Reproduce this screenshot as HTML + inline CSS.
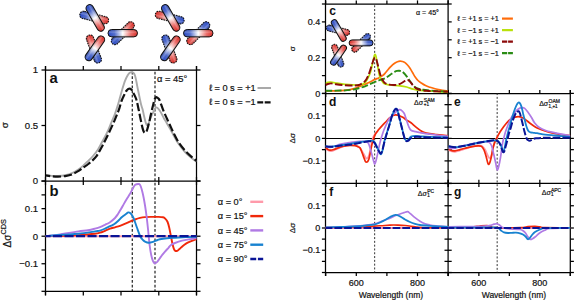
<!DOCTYPE html>
<html><head><meta charset="utf-8"><title>figure</title>
<style>html,body{margin:0;padding:0;background:#fff;overflow:hidden;}svg{display:block;}text{font-family:"Liberation Sans",sans-serif;fill:#111;stroke:#111;stroke-width:0.2px;}</style>
</head><body>
<svg width="575" height="300" viewBox="0 0 575 300">
<defs>
<linearGradient id="rg" x1="0" y1="0" x2="1" y2="0"><stop offset="0" stop-color="#2446c4"/><stop offset="0.22" stop-color="#4c68cc"/><stop offset="0.5" stop-color="#ffffff"/><stop offset="0.78" stop-color="#ec6a66"/><stop offset="1" stop-color="#d8261e"/></linearGradient>
<linearGradient id="sh" x1="0" y1="0" x2="0" y2="1"><stop offset="0" stop-color="#000" stop-opacity="0.18"/><stop offset="0.35" stop-color="#fff" stop-opacity="0.25"/><stop offset="0.6" stop-color="#fff" stop-opacity="0.0"/><stop offset="1" stop-color="#000" stop-opacity="0.22"/></linearGradient>
</defs>
<g transform="translate(94.2,17.6) rotate(14)"><rect x="-14.75" y="-3.7" width="29.5" height="7.4" rx="3.7" fill="url(#rg)"/><rect x="-14.75" y="-3.7" width="29.5" height="7.4" rx="3.7" fill="url(#sh)"/><rect x="-14.75" y="-3.7" width="29.5" height="7.4" rx="3.7" fill="none" stroke="#111" stroke-width="1.05" stroke-dasharray="1.6 0.9"/></g>
<g transform="translate(95.2,17.9) rotate(60.3)"><rect x="-14.75" y="-3.7" width="29.5" height="7.4" rx="3.7" fill="url(#rg)"/><rect x="-14.75" y="-3.7" width="29.5" height="7.4" rx="3.7" fill="url(#sh)"/><rect x="-14.75" y="-3.7" width="29.5" height="7.4" rx="3.7" fill="none" stroke="#111" stroke-width="1.0"/></g>
<g transform="translate(122.8,33.2) rotate(-44.9)"><rect x="-14.75" y="-3.7" width="29.5" height="7.4" rx="3.7" fill="url(#rg)"/><rect x="-14.75" y="-3.7" width="29.5" height="7.4" rx="3.7" fill="url(#sh)"/><rect x="-14.75" y="-3.7" width="29.5" height="7.4" rx="3.7" fill="none" stroke="#111" stroke-width="1.05" stroke-dasharray="1.6 0.9"/></g>
<g transform="translate(122.75,33.2) rotate(0)"><rect x="-14.75" y="-3.7" width="29.5" height="7.4" rx="3.7" fill="url(#rg)"/><rect x="-14.75" y="-3.7" width="29.5" height="7.4" rx="3.7" fill="url(#sh)"/><rect x="-14.75" y="-3.7" width="29.5" height="7.4" rx="3.7" fill="none" stroke="#111" stroke-width="1.0"/></g>
<g transform="translate(93.9,49) rotate(-110.5)"><rect x="-14.75" y="-3.7" width="29.5" height="7.4" rx="3.7" fill="url(#rg)"/><rect x="-14.75" y="-3.7" width="29.5" height="7.4" rx="3.7" fill="url(#sh)"/><rect x="-14.75" y="-3.7" width="29.5" height="7.4" rx="3.7" fill="none" stroke="#111" stroke-width="1.05" stroke-dasharray="1.6 0.9"/></g>
<g transform="translate(94.9,48.3) rotate(-55)"><rect x="-14.31" y="-3.7" width="28.61" height="7.4" rx="3.7" fill="url(#rg)"/><rect x="-14.31" y="-3.7" width="28.61" height="7.4" rx="3.7" fill="url(#sh)"/><rect x="-14.31" y="-3.7" width="28.61" height="7.4" rx="3.7" fill="none" stroke="#111" stroke-width="1.0"/></g>
<g transform="translate(169.7,17.6) rotate(194)"><rect x="-14.75" y="-3.7" width="29.5" height="7.4" rx="3.7" fill="url(#rg)"/><rect x="-14.75" y="-3.7" width="29.5" height="7.4" rx="3.7" fill="url(#sh)"/><rect x="-14.75" y="-3.7" width="29.5" height="7.4" rx="3.7" fill="none" stroke="#111" stroke-width="1.05" stroke-dasharray="1.6 0.9"/></g>
<g transform="translate(170.7,17.9) rotate(60.3)"><rect x="-14.75" y="-3.7" width="29.5" height="7.4" rx="3.7" fill="url(#rg)"/><rect x="-14.75" y="-3.7" width="29.5" height="7.4" rx="3.7" fill="url(#sh)"/><rect x="-14.75" y="-3.7" width="29.5" height="7.4" rx="3.7" fill="none" stroke="#111" stroke-width="1.0"/></g>
<g transform="translate(198.3,33.2) rotate(135.1)"><rect x="-14.75" y="-3.7" width="29.5" height="7.4" rx="3.7" fill="url(#rg)"/><rect x="-14.75" y="-3.7" width="29.5" height="7.4" rx="3.7" fill="url(#sh)"/><rect x="-14.75" y="-3.7" width="29.5" height="7.4" rx="3.7" fill="none" stroke="#111" stroke-width="1.05" stroke-dasharray="1.6 0.9"/></g>
<g transform="translate(198.25,33.2) rotate(0)"><rect x="-14.75" y="-3.7" width="29.5" height="7.4" rx="3.7" fill="url(#rg)"/><rect x="-14.75" y="-3.7" width="29.5" height="7.4" rx="3.7" fill="url(#sh)"/><rect x="-14.75" y="-3.7" width="29.5" height="7.4" rx="3.7" fill="none" stroke="#111" stroke-width="1.0"/></g>
<g transform="translate(169.4,49) rotate(69.5)"><rect x="-14.75" y="-3.7" width="29.5" height="7.4" rx="3.7" fill="url(#rg)"/><rect x="-14.75" y="-3.7" width="29.5" height="7.4" rx="3.7" fill="url(#sh)"/><rect x="-14.75" y="-3.7" width="29.5" height="7.4" rx="3.7" fill="none" stroke="#111" stroke-width="1.05" stroke-dasharray="1.6 0.9"/></g>
<g transform="translate(170.4,48.3) rotate(-55)"><rect x="-14.31" y="-3.7" width="28.61" height="7.4" rx="3.7" fill="url(#rg)"/><rect x="-14.31" y="-3.7" width="28.61" height="7.4" rx="3.7" fill="url(#sh)"/><rect x="-14.31" y="-3.7" width="28.61" height="7.4" rx="3.7" fill="none" stroke="#111" stroke-width="1.0"/></g>
<line x1="45.5" y1="70" x2="196.5" y2="70" stroke="#000" stroke-width="1.25"/>
<line x1="45.5" y1="181" x2="196.5" y2="181" stroke="#000" stroke-width="1.25"/>
<line x1="45.5" y1="291.4" x2="196.5" y2="291.4" stroke="#000" stroke-width="1.25"/>
<line x1="45.5" y1="66" x2="45.5" y2="295.4" stroke="#000" stroke-width="1.25"/>
<line x1="196.5" y1="66" x2="196.5" y2="295.4" stroke="#000" stroke-width="1.25"/>
<line x1="45.5" y1="66" x2="45.5" y2="70" stroke="#000" stroke-width="1.25"/>
<line x1="45.5" y1="177" x2="45.5" y2="185" stroke="#000" stroke-width="1.25"/>
<line x1="45.5" y1="291.4" x2="45.5" y2="295.4" stroke="#000" stroke-width="1.25"/>
<line x1="83.3" y1="66" x2="83.3" y2="70" stroke="#000" stroke-width="1.25"/>
<line x1="83.3" y1="177" x2="83.3" y2="185" stroke="#000" stroke-width="1.25"/>
<line x1="83.3" y1="291.4" x2="83.3" y2="295.4" stroke="#000" stroke-width="1.25"/>
<line x1="121" y1="66" x2="121" y2="70" stroke="#000" stroke-width="1.25"/>
<line x1="121" y1="177" x2="121" y2="185" stroke="#000" stroke-width="1.25"/>
<line x1="121" y1="291.4" x2="121" y2="295.4" stroke="#000" stroke-width="1.25"/>
<line x1="158.8" y1="66" x2="158.8" y2="70" stroke="#000" stroke-width="1.25"/>
<line x1="158.8" y1="177" x2="158.8" y2="185" stroke="#000" stroke-width="1.25"/>
<line x1="158.8" y1="291.4" x2="158.8" y2="295.4" stroke="#000" stroke-width="1.25"/>
<line x1="196.5" y1="66" x2="196.5" y2="70" stroke="#000" stroke-width="1.25"/>
<line x1="196.5" y1="177" x2="196.5" y2="185" stroke="#000" stroke-width="1.25"/>
<line x1="196.5" y1="291.4" x2="196.5" y2="295.4" stroke="#000" stroke-width="1.25"/>
<line x1="41.5" y1="181" x2="45.5" y2="181" stroke="#000" stroke-width="1.25"/>
<line x1="196.5" y1="181" x2="200.5" y2="181" stroke="#000" stroke-width="1.25"/>
<line x1="41.5" y1="125.5" x2="45.5" y2="125.5" stroke="#000" stroke-width="1.25"/>
<line x1="196.5" y1="125.5" x2="200.5" y2="125.5" stroke="#000" stroke-width="1.25"/>
<line x1="41.5" y1="70" x2="45.5" y2="70" stroke="#000" stroke-width="1.25"/>
<line x1="196.5" y1="70" x2="200.5" y2="70" stroke="#000" stroke-width="1.25"/>
<line x1="41.5" y1="291.3" x2="45.5" y2="291.3" stroke="#000" stroke-width="1.25"/>
<line x1="196.5" y1="291.3" x2="200.5" y2="291.3" stroke="#000" stroke-width="1.25"/>
<line x1="41.5" y1="277.52" x2="45.5" y2="277.52" stroke="#000" stroke-width="1.25"/>
<line x1="196.5" y1="277.52" x2="200.5" y2="277.52" stroke="#000" stroke-width="1.25"/>
<line x1="41.5" y1="263.75" x2="45.5" y2="263.75" stroke="#000" stroke-width="1.25"/>
<line x1="196.5" y1="263.75" x2="200.5" y2="263.75" stroke="#000" stroke-width="1.25"/>
<line x1="41.5" y1="249.97" x2="45.5" y2="249.97" stroke="#000" stroke-width="1.25"/>
<line x1="196.5" y1="249.97" x2="200.5" y2="249.97" stroke="#000" stroke-width="1.25"/>
<line x1="41.5" y1="236.2" x2="45.5" y2="236.2" stroke="#000" stroke-width="1.25"/>
<line x1="196.5" y1="236.2" x2="200.5" y2="236.2" stroke="#000" stroke-width="1.25"/>
<line x1="41.5" y1="222.42" x2="45.5" y2="222.42" stroke="#000" stroke-width="1.25"/>
<line x1="196.5" y1="222.42" x2="200.5" y2="222.42" stroke="#000" stroke-width="1.25"/>
<line x1="41.5" y1="208.65" x2="45.5" y2="208.65" stroke="#000" stroke-width="1.25"/>
<line x1="196.5" y1="208.65" x2="200.5" y2="208.65" stroke="#000" stroke-width="1.25"/>
<line x1="41.5" y1="194.88" x2="45.5" y2="194.88" stroke="#000" stroke-width="1.25"/>
<line x1="196.5" y1="194.88" x2="200.5" y2="194.88" stroke="#000" stroke-width="1.25"/>
<line x1="41.5" y1="181.1" x2="45.5" y2="181.1" stroke="#000" stroke-width="1.25"/>
<line x1="196.5" y1="181.1" x2="200.5" y2="181.1" stroke="#000" stroke-width="1.25"/>
<text x="38.2" y="73.4" font-size="9.6" text-anchor="end" font-weight="normal">1</text>
<text x="38.2" y="128.9" font-size="9.6" text-anchor="end" font-weight="normal">0.5</text>
<text x="38.2" y="184.4" font-size="9.6" text-anchor="end" font-weight="normal">0</text>
<text x="38.2" y="212.05" font-size="9.6" text-anchor="end" font-weight="normal">0.1</text>
<text x="38.2" y="239.6" font-size="9.6" text-anchor="end" font-weight="normal">0</text>
<text x="38.2" y="267.15" font-size="9.6" text-anchor="end" font-weight="normal">−0.1</text>
<text transform="translate(7.8,125.2) rotate(-90)" font-size="9.8" text-anchor="middle">σ</text>
<text transform="translate(11.2,233.2) rotate(-90)" font-size="10" text-anchor="middle">Δσ<tspan font-size="7.4" dy="-4.8">CDS</tspan></text>
<text x="49.6" y="82.6" font-size="14.8" text-anchor="start" font-weight="bold" style="stroke:none">a</text>
<text x="49.6" y="195.8" font-size="14.8" text-anchor="start" font-weight="bold" style="stroke:none">b</text>
<text x="157" y="81.6" font-size="9.4" text-anchor="start" font-weight="normal">α = 45°</text>
<line x1="132.25" y1="70" x2="132.25" y2="291" stroke="#000" stroke-width="1.05" stroke-dasharray="2.7 1.93" stroke-dashoffset="2.93"/>
<line x1="155.0" y1="70" x2="155.0" y2="291" stroke="#000" stroke-width="1.05" stroke-dasharray="2.7 1.93" stroke-dashoffset="2.93"/>
<clipPath id="clipA"><rect x="45.5" y="70" width="151" height="111"/></clipPath>
<g clip-path="url(#clipA)">
<path d="M46,175.4 C47,175.48 50,175.8 52,175.9 C54,176 55.83,176.1 58,176 C60.17,175.9 62.67,175.77 65,175.3 C67.33,174.83 69.83,174.12 72,173.2 C74.17,172.28 76.17,171.02 78,169.8 C79.83,168.58 81.33,167.35 83,165.9 C84.67,164.45 86.33,162.75 88,161.1 C89.67,159.45 91.33,157.95 93,156 C94.67,154.05 96.58,151.57 98,149.4 C99.42,147.23 100.38,145.02 101.5,143 C102.62,140.98 103.62,139.35 104.7,137.3 C105.78,135.25 106.9,133.13 108,130.7 C109.1,128.27 110.18,125.37 111.3,122.7 C112.42,120.03 113.7,117.33 114.7,114.7 C115.7,112.07 116.47,109.6 117.3,106.9 C118.13,104.2 118.87,101.45 119.7,98.5 C120.53,95.55 121.42,92.15 122.3,89.2 C123.18,86.25 124.1,83.13 125,80.8 C125.9,78.47 126.92,76.53 127.7,75.2 C128.48,73.87 129.03,73.32 129.7,72.8 C130.37,72.28 131.07,72.07 131.7,72.1 C132.33,72.13 132.98,72.52 133.5,73 C134.02,73.48 134.38,73.9 134.8,75 C135.22,76.1 135.58,77.7 136,79.6 C136.42,81.5 136.85,84.13 137.3,86.4 C137.75,88.67 138.25,91 138.7,93.2 C139.15,95.4 139.57,97.58 140,99.6 C140.43,101.62 140.85,103.6 141.3,105.3 C141.75,107 142.25,108.05 142.7,109.8 C143.15,111.55 143.57,113.9 144,115.8 C144.43,117.7 144.85,119.68 145.3,121.2 C145.75,122.72 146.25,124.33 146.7,124.9 C147.15,125.47 147.57,125.2 148,124.6 C148.43,124 148.85,122.48 149.3,121.3 C149.75,120.12 150.25,118.6 150.7,117.5 C151.15,116.4 151.57,115.57 152,114.7 C152.43,113.83 152.92,113.05 153.3,112.3 C153.68,111.55 153.93,110.93 154.3,110.2 C154.67,109.47 155.12,108.37 155.5,107.9 C155.88,107.43 156.18,107.32 156.6,107.4 C157.02,107.48 157.43,107.8 158,108.4 C158.57,109 159.33,109.98 160,111 C160.67,112.02 161.33,113.25 162,114.5 C162.67,115.75 163.37,117.37 164,118.5 C164.63,119.63 165.08,120.08 165.8,121.3 C166.52,122.52 167.43,124.27 168.3,125.8 C169.17,127.33 170.22,129.1 171,130.5 C171.78,131.9 171.92,132.25 173,134.2 C174.08,136.15 175.5,139.23 177.5,142.2 C179.5,145.17 182.5,149.25 185,152 C187.5,154.75 190.58,157.1 192.5,158.7 C194.42,160.3 195.83,161.12 196.5,161.6" fill="none" stroke="#a9a9a9" stroke-width="1.9" stroke-linejoin="round"/>
<path d="M46,175.4 C47,175.55 50,176.1 52,176.3 C54,176.5 55.83,176.63 58,176.6 C60.17,176.57 62.67,176.45 65,176.1 C67.33,175.75 69.67,175.42 72,174.5 C74.33,173.58 77.17,171.72 79,170.6 C80.83,169.48 81.45,168.9 83,167.8 C84.55,166.7 86.75,165.2 88.3,164 C89.85,162.8 90.97,161.87 92.3,160.6 C93.63,159.33 95.08,158.02 96.3,156.4 C97.52,154.78 98.48,152.83 99.6,150.9 C100.72,148.97 101.93,146.82 103,144.8 C104.07,142.78 104.95,140.93 106,138.8 C107.05,136.67 108.18,134.35 109.3,132 C110.42,129.65 111.7,126.92 112.7,124.7 C113.7,122.48 114.42,120.82 115.3,118.7 C116.18,116.58 117.3,113.82 118,112 C118.7,110.18 118.88,109.72 119.5,107.8 C120.12,105.88 120.9,102.68 121.7,100.5 C122.5,98.32 123.53,96.28 124.3,94.7 C125.07,93.12 125.63,91.95 126.3,91 C126.97,90.05 127.63,89.37 128.3,89 C128.97,88.63 129.63,88.52 130.3,88.8 C130.97,89.08 131.77,89.95 132.3,90.7 C132.83,91.45 133,92.27 133.5,93.3 C134,94.33 134.77,95.67 135.3,96.9 C135.83,98.13 136.25,99.1 136.7,100.7 C137.15,102.3 137.65,104.92 138,106.5 C138.35,108.08 138.47,108.57 138.8,110.2 C139.13,111.83 139.58,114.25 140,116.3 C140.42,118.35 140.85,120.45 141.3,122.5 C141.75,124.55 142.28,127.07 142.7,128.6 C143.12,130.13 143.42,131 143.8,131.7 C144.18,132.4 144.58,132.78 145,132.8 C145.42,132.82 145.92,132.38 146.3,131.8 C146.68,131.22 146.9,130.6 147.3,129.3 C147.7,128 148.25,125.77 148.7,124 C149.15,122.23 149.57,120.62 150,118.7 C150.43,116.78 150.88,114.37 151.3,112.5 C151.72,110.63 152.13,109 152.5,107.5 C152.87,106 153.17,104.82 153.5,103.5 C153.83,102.18 154.08,100.63 154.5,99.6 C154.92,98.57 155.5,97.6 156,97.3 C156.5,97 157,97.48 157.5,97.8 C158,98.12 158.5,98.4 159,99.2 C159.5,100 160,101.33 160.5,102.6 C161,103.87 161.5,105.43 162,106.8 C162.5,108.17 163,109.53 163.5,110.8 C164,112.07 164.42,113.08 165,114.4 C165.58,115.72 166.2,116.97 167,118.7 C167.8,120.43 168.97,122.98 169.8,124.8 C170.63,126.62 171.22,127.93 172,129.6 C172.78,131.27 173.33,132.57 174.5,134.8 C175.67,137.03 177.25,140.38 179,143 C180.75,145.62 183,148.27 185,150.5 C187,152.73 189.08,154.68 191,156.4 C192.92,158.12 195.58,160.07 196.5,160.8" fill="none" stroke="#111" stroke-width="2.2" stroke-linejoin="round" stroke-dasharray="8.3 2.7" stroke-dashoffset="4.1"/>
</g>
<text x="209" y="91.1" font-size="9.2" text-anchor="start" font-weight="normal">ℓ = 0 s = +1</text>
<text x="209" y="105.4" font-size="9.2" text-anchor="start" font-weight="normal">ℓ = 0 s = −1</text>
<line x1="257.5" y1="88" x2="271" y2="88" stroke="#a9a9a9" stroke-width="2"/>
<line x1="257.3" y1="102.4" x2="271.2" y2="102.4" stroke="#111" stroke-width="2.3" stroke-dasharray="5.9 1.5"/>
<clipPath id="clipB"><rect x="45.5" y="181" width="151" height="110.4"/></clipPath>
<g clip-path="url(#clipB)">
<line x1="45.5" y1="236.2" x2="196.5" y2="236.2" stroke="#ff9aaa" stroke-width="2"/>
<path d="M45.5,236.1 C48.75,236.05 59.5,235.97 65,235.8 C70.5,235.63 73.53,235.45 78.5,235.1 C83.47,234.75 91.22,234.1 94.8,233.7 C98.38,233.3 98.3,233.18 100,232.7 C101.7,232.22 103.33,231.47 105,230.8 C106.67,230.13 108.33,229.28 110,228.7 C111.67,228.12 113.33,227.78 115,227.3 C116.67,226.82 118.17,226.45 120,225.8 C121.83,225.15 124.33,224.1 126,223.4 C127.67,222.7 128.5,222.25 130,221.6 C131.5,220.95 133.33,220.12 135,219.5 C136.67,218.88 138.33,218.3 140,217.9 C141.67,217.5 143,217.27 145,217.1 C147,216.93 149.83,216.93 152,216.9 C154.17,216.87 156.17,216.83 158,216.9 C159.83,216.97 161.8,217.02 163,217.3 C164.2,217.58 164.43,217.82 165.2,218.6 C165.97,219.38 166.92,220.43 167.6,222 C168.28,223.57 168.73,225.58 169.3,228 C169.87,230.42 170.48,233.92 171,236.5 C171.52,239.08 171.93,241.47 172.4,243.5 C172.87,245.53 173.37,247.52 173.8,248.7 C174.23,249.88 174.43,250.23 175,250.6 C175.57,250.97 176.45,251.17 177.2,250.9 C177.95,250.63 178.62,249.78 179.5,249 C180.38,248.22 181.42,247.1 182.5,246.2 C183.58,245.3 184.75,244.37 186,243.6 C187.25,242.83 188.67,242.18 190,241.6 C191.33,241.02 192.83,240.48 194,240.1 C195.17,239.72 196.5,239.43 197,239.3" fill="none" stroke="#f0280a" stroke-width="1.9" stroke-linejoin="round"/>
<path d="M45.5,236.1 C47.08,235.95 51.92,235.6 55,235.2 C58.08,234.8 60.08,234.33 64,233.7 C67.92,233.07 74.5,231.98 78.5,231.4 C82.5,230.82 85.25,230.67 88,230.2 C90.75,229.73 93,229.12 95,228.6 C97,228.08 98.33,227.73 100,227.1 C101.67,226.47 103.33,225.62 105,224.8 C106.67,223.98 108.33,223.33 110,222.2 C111.67,221.07 113.67,219.37 115,218 C116.33,216.63 117,215.5 118,214 C119,212.5 120.08,210.57 121,209 C121.92,207.43 122.67,206.07 123.5,204.6 C124.33,203.13 125.17,201.6 126,200.2 C126.83,198.8 127.72,197.47 128.5,196.2 C129.28,194.93 129.95,193.93 130.7,192.6 C131.45,191.27 132.32,189.43 133,188.2 C133.68,186.97 134.2,185.87 134.8,185.2 C135.4,184.53 135.83,184.37 136.6,184.2 C137.37,184.03 138.7,183.82 139.4,184.2 C140.1,184.58 140.3,185.2 140.8,186.5 C141.3,187.8 141.9,190 142.4,192 C142.9,194 143.35,196.17 143.8,198.5 C144.25,200.83 144.63,203 145.1,206 C145.57,209 146.12,212.67 146.6,216.5 C147.08,220.33 147.5,224.25 148,229 C148.5,233.75 149.07,240.67 149.6,245 C150.13,249.33 150.63,252.3 151.2,255 C151.77,257.7 152.42,259.82 153,261.2 C153.58,262.58 154,263.2 154.7,263.3 C155.4,263.4 156.18,262.88 157.2,261.8 C158.22,260.72 159.5,258.48 160.8,256.8 C162.1,255.12 163.72,253.2 165,251.7 C166.28,250.2 167.5,248.92 168.5,247.8 C169.5,246.68 169.92,245.8 171,245 C172.08,244.2 173.17,243.72 175,243 C176.83,242.28 179.5,241.33 182,240.7 C184.5,240.07 187.5,239.62 190,239.2 C192.5,238.78 195.83,238.37 197,238.2" fill="none" stroke="#b07ae4" stroke-width="1.9" stroke-linejoin="round"/>
<path d="M45.5,236.1 C48.58,235.87 58.5,235.1 64,234.7 C69.5,234.3 73.33,234.25 78.5,233.7 C83.67,233.15 91.42,231.92 95,231.4 C98.58,230.88 98.33,231.07 100,230.6 C101.67,230.13 103.33,229.33 105,228.6 C106.67,227.87 108.5,226.92 110,226.2 C111.5,225.48 112.67,225.17 114,224.3 C115.33,223.43 116.67,222.22 118,221 C119.33,219.78 120.67,218.17 122,217 C123.33,215.83 124.95,214.77 126,214 C127.05,213.23 127.55,212.52 128.3,212.4 C129.05,212.28 129.8,212.7 130.5,213.3 C131.2,213.9 131.87,214.88 132.5,216 C133.13,217.12 133.55,218.03 134.3,220 C135.05,221.97 136,225.05 137,227.8 C138,230.55 139.3,234.47 140.3,236.5 C141.3,238.53 142.13,239.12 143,240 C143.87,240.88 144.55,241.35 145.5,241.8 C146.45,242.25 147.62,242.63 148.7,242.7 C149.78,242.77 150.78,242.55 152,242.2 C153.22,241.85 154.67,241.08 156,240.6 C157.33,240.12 158.17,239.68 160,239.3 C161.83,238.92 164.5,238.57 167,238.3 C169.5,238.03 171.83,237.9 175,237.7 C178.17,237.5 182.33,237.27 186,237.1 C189.67,236.93 195.17,236.77 197,236.7" fill="none" stroke="#1882d0" stroke-width="1.9" stroke-linejoin="round"/>
<line x1="45.5" y1="236.1" x2="197" y2="236.1" stroke="#0a1496" stroke-width="2.3" stroke-dasharray="9.1 2.4" stroke-dashoffset="4"/>
</g>
<text x="217.8" y="204.9" font-size="9.2" text-anchor="start" font-weight="normal">α = 0°</text>
<line x1="250.3" y1="201.8" x2="263.2" y2="201.8" stroke="#ff9aaa" stroke-width="2.4"/>
<text x="217.8" y="219.2" font-size="9.2" text-anchor="start" font-weight="normal">α = 15°</text>
<line x1="250.3" y1="216.1" x2="263.2" y2="216.1" stroke="#f0280a" stroke-width="2.4"/>
<text x="217.8" y="233.5" font-size="9.2" text-anchor="start" font-weight="normal">α = 45°</text>
<line x1="250.3" y1="230.4" x2="263.2" y2="230.4" stroke="#b07ae4" stroke-width="2.4"/>
<text x="217.8" y="247.8" font-size="9.2" text-anchor="start" font-weight="normal">α = 75°</text>
<line x1="250.3" y1="244.7" x2="263.2" y2="244.7" stroke="#1882d0" stroke-width="2.4"/>
<text x="217.8" y="262.1" font-size="9.2" text-anchor="start" font-weight="normal">α = 90°</text>
<line x1="250.3" y1="259" x2="263.2" y2="259" stroke="#0a1496" stroke-width="2.4" stroke-dasharray="5.9 1.7"/>
<line x1="325.5" y1="4" x2="448.1" y2="4" stroke="#000" stroke-width="1.25"/>
<line x1="325.5" y1="93.5" x2="570.3" y2="93.5" stroke="#000" stroke-width="1.25"/>
<line x1="325.5" y1="183.45" x2="570.3" y2="183.45" stroke="#000" stroke-width="1.25"/>
<line x1="325.5" y1="272.5" x2="570.3" y2="272.5" stroke="#000" stroke-width="1.25"/>
<line x1="325.5" y1="0" x2="325.5" y2="276" stroke="#000" stroke-width="1.25"/>
<line x1="448.1" y1="0" x2="448.1" y2="276" stroke="#000" stroke-width="1.25"/>
<line x1="570.3" y1="90" x2="570.3" y2="276" stroke="#000" stroke-width="1.25"/>
<line x1="325.7" y1="0.4" x2="325.7" y2="4" stroke="#000" stroke-width="1.25"/>
<line x1="325.7" y1="89.9" x2="325.7" y2="97.1" stroke="#000" stroke-width="1.25"/>
<line x1="325.7" y1="179.85" x2="325.7" y2="187.05" stroke="#000" stroke-width="1.25"/>
<line x1="325.7" y1="272.5" x2="325.7" y2="276.1" stroke="#000" stroke-width="1.25"/>
<line x1="356.3" y1="0.4" x2="356.3" y2="4" stroke="#000" stroke-width="1.25"/>
<line x1="356.3" y1="89.9" x2="356.3" y2="97.1" stroke="#000" stroke-width="1.25"/>
<line x1="356.3" y1="179.85" x2="356.3" y2="187.05" stroke="#000" stroke-width="1.25"/>
<line x1="356.3" y1="272.5" x2="356.3" y2="276.1" stroke="#000" stroke-width="1.25"/>
<line x1="386.9" y1="0.4" x2="386.9" y2="4" stroke="#000" stroke-width="1.25"/>
<line x1="386.9" y1="89.9" x2="386.9" y2="97.1" stroke="#000" stroke-width="1.25"/>
<line x1="386.9" y1="179.85" x2="386.9" y2="187.05" stroke="#000" stroke-width="1.25"/>
<line x1="386.9" y1="272.5" x2="386.9" y2="276.1" stroke="#000" stroke-width="1.25"/>
<line x1="417.5" y1="0.4" x2="417.5" y2="4" stroke="#000" stroke-width="1.25"/>
<line x1="417.5" y1="89.9" x2="417.5" y2="97.1" stroke="#000" stroke-width="1.25"/>
<line x1="417.5" y1="179.85" x2="417.5" y2="187.05" stroke="#000" stroke-width="1.25"/>
<line x1="417.5" y1="272.5" x2="417.5" y2="276.1" stroke="#000" stroke-width="1.25"/>
<line x1="448.1" y1="0.4" x2="448.1" y2="4" stroke="#000" stroke-width="1.25"/>
<line x1="448.1" y1="89.9" x2="448.1" y2="97.1" stroke="#000" stroke-width="1.25"/>
<line x1="448.1" y1="179.85" x2="448.1" y2="187.05" stroke="#000" stroke-width="1.25"/>
<line x1="448.1" y1="272.5" x2="448.1" y2="276.1" stroke="#000" stroke-width="1.25"/>
<line x1="448.4" y1="89.9" x2="448.4" y2="93.5" stroke="#000" stroke-width="1.25"/>
<line x1="448.4" y1="179.85" x2="448.4" y2="187.05" stroke="#000" stroke-width="1.25"/>
<line x1="448.4" y1="272.5" x2="448.4" y2="276.1" stroke="#000" stroke-width="1.25"/>
<line x1="478.88" y1="89.9" x2="478.88" y2="93.5" stroke="#000" stroke-width="1.25"/>
<line x1="478.88" y1="179.85" x2="478.88" y2="187.05" stroke="#000" stroke-width="1.25"/>
<line x1="478.88" y1="272.5" x2="478.88" y2="276.1" stroke="#000" stroke-width="1.25"/>
<line x1="509.35" y1="89.9" x2="509.35" y2="93.5" stroke="#000" stroke-width="1.25"/>
<line x1="509.35" y1="179.85" x2="509.35" y2="187.05" stroke="#000" stroke-width="1.25"/>
<line x1="509.35" y1="272.5" x2="509.35" y2="276.1" stroke="#000" stroke-width="1.25"/>
<line x1="539.82" y1="89.9" x2="539.82" y2="93.5" stroke="#000" stroke-width="1.25"/>
<line x1="539.82" y1="179.85" x2="539.82" y2="187.05" stroke="#000" stroke-width="1.25"/>
<line x1="539.82" y1="272.5" x2="539.82" y2="276.1" stroke="#000" stroke-width="1.25"/>
<line x1="570.3" y1="89.9" x2="570.3" y2="93.5" stroke="#000" stroke-width="1.25"/>
<line x1="570.3" y1="179.85" x2="570.3" y2="187.05" stroke="#000" stroke-width="1.25"/>
<line x1="570.3" y1="272.5" x2="570.3" y2="276.1" stroke="#000" stroke-width="1.25"/>
<line x1="321.9" y1="93.5" x2="325.5" y2="93.5" stroke="#000" stroke-width="1.25"/>
<line x1="448.1" y1="93.5" x2="451.7" y2="93.5" stroke="#000" stroke-width="1.25"/>
<line x1="321.9" y1="75.6" x2="325.5" y2="75.6" stroke="#000" stroke-width="1.25"/>
<line x1="448.1" y1="75.6" x2="451.7" y2="75.6" stroke="#000" stroke-width="1.25"/>
<line x1="321.9" y1="57.7" x2="325.5" y2="57.7" stroke="#000" stroke-width="1.25"/>
<line x1="448.1" y1="57.7" x2="451.7" y2="57.7" stroke="#000" stroke-width="1.25"/>
<line x1="321.9" y1="39.8" x2="325.5" y2="39.8" stroke="#000" stroke-width="1.25"/>
<line x1="448.1" y1="39.8" x2="451.7" y2="39.8" stroke="#000" stroke-width="1.25"/>
<line x1="321.9" y1="21.9" x2="325.5" y2="21.9" stroke="#000" stroke-width="1.25"/>
<line x1="448.1" y1="21.9" x2="451.7" y2="21.9" stroke="#000" stroke-width="1.25"/>
<line x1="321.9" y1="4" x2="325.5" y2="4" stroke="#000" stroke-width="1.25"/>
<line x1="448.1" y1="4" x2="451.7" y2="4" stroke="#000" stroke-width="1.25"/>
<line x1="321.9" y1="183.4" x2="325.5" y2="183.4" stroke="#000" stroke-width="1.25"/>
<line x1="444.5" y1="183.4" x2="451.7" y2="183.4" stroke="#000" stroke-width="1.25"/>
<line x1="570.3" y1="183.4" x2="573.9" y2="183.4" stroke="#000" stroke-width="1.25"/>
<line x1="321.9" y1="172.15" x2="325.5" y2="172.15" stroke="#000" stroke-width="1.25"/>
<line x1="444.5" y1="172.15" x2="451.7" y2="172.15" stroke="#000" stroke-width="1.25"/>
<line x1="570.3" y1="172.15" x2="573.9" y2="172.15" stroke="#000" stroke-width="1.25"/>
<line x1="321.9" y1="160.9" x2="325.5" y2="160.9" stroke="#000" stroke-width="1.25"/>
<line x1="444.5" y1="160.9" x2="451.7" y2="160.9" stroke="#000" stroke-width="1.25"/>
<line x1="570.3" y1="160.9" x2="573.9" y2="160.9" stroke="#000" stroke-width="1.25"/>
<line x1="321.9" y1="149.65" x2="325.5" y2="149.65" stroke="#000" stroke-width="1.25"/>
<line x1="444.5" y1="149.65" x2="451.7" y2="149.65" stroke="#000" stroke-width="1.25"/>
<line x1="570.3" y1="149.65" x2="573.9" y2="149.65" stroke="#000" stroke-width="1.25"/>
<line x1="321.9" y1="138.4" x2="325.5" y2="138.4" stroke="#000" stroke-width="1.25"/>
<line x1="444.5" y1="138.4" x2="451.7" y2="138.4" stroke="#000" stroke-width="1.25"/>
<line x1="570.3" y1="138.4" x2="573.9" y2="138.4" stroke="#000" stroke-width="1.25"/>
<line x1="321.9" y1="127.15" x2="325.5" y2="127.15" stroke="#000" stroke-width="1.25"/>
<line x1="444.5" y1="127.15" x2="451.7" y2="127.15" stroke="#000" stroke-width="1.25"/>
<line x1="570.3" y1="127.15" x2="573.9" y2="127.15" stroke="#000" stroke-width="1.25"/>
<line x1="321.9" y1="115.9" x2="325.5" y2="115.9" stroke="#000" stroke-width="1.25"/>
<line x1="444.5" y1="115.9" x2="451.7" y2="115.9" stroke="#000" stroke-width="1.25"/>
<line x1="570.3" y1="115.9" x2="573.9" y2="115.9" stroke="#000" stroke-width="1.25"/>
<line x1="321.9" y1="104.65" x2="325.5" y2="104.65" stroke="#000" stroke-width="1.25"/>
<line x1="444.5" y1="104.65" x2="451.7" y2="104.65" stroke="#000" stroke-width="1.25"/>
<line x1="570.3" y1="104.65" x2="573.9" y2="104.65" stroke="#000" stroke-width="1.25"/>
<line x1="321.9" y1="93.4" x2="325.5" y2="93.4" stroke="#000" stroke-width="1.25"/>
<line x1="444.5" y1="93.4" x2="451.7" y2="93.4" stroke="#000" stroke-width="1.25"/>
<line x1="570.3" y1="93.4" x2="573.9" y2="93.4" stroke="#000" stroke-width="1.25"/>
<line x1="321.9" y1="272.5" x2="325.5" y2="272.5" stroke="#000" stroke-width="1.25"/>
<line x1="444.5" y1="272.5" x2="451.7" y2="272.5" stroke="#000" stroke-width="1.25"/>
<line x1="570.3" y1="272.5" x2="573.9" y2="272.5" stroke="#000" stroke-width="1.25"/>
<line x1="321.9" y1="261.38" x2="325.5" y2="261.38" stroke="#000" stroke-width="1.25"/>
<line x1="444.5" y1="261.38" x2="451.7" y2="261.38" stroke="#000" stroke-width="1.25"/>
<line x1="570.3" y1="261.38" x2="573.9" y2="261.38" stroke="#000" stroke-width="1.25"/>
<line x1="321.9" y1="250.25" x2="325.5" y2="250.25" stroke="#000" stroke-width="1.25"/>
<line x1="444.5" y1="250.25" x2="451.7" y2="250.25" stroke="#000" stroke-width="1.25"/>
<line x1="570.3" y1="250.25" x2="573.9" y2="250.25" stroke="#000" stroke-width="1.25"/>
<line x1="321.9" y1="239.12" x2="325.5" y2="239.12" stroke="#000" stroke-width="1.25"/>
<line x1="444.5" y1="239.12" x2="451.7" y2="239.12" stroke="#000" stroke-width="1.25"/>
<line x1="570.3" y1="239.12" x2="573.9" y2="239.12" stroke="#000" stroke-width="1.25"/>
<line x1="321.9" y1="228" x2="325.5" y2="228" stroke="#000" stroke-width="1.25"/>
<line x1="444.5" y1="228" x2="451.7" y2="228" stroke="#000" stroke-width="1.25"/>
<line x1="570.3" y1="228" x2="573.9" y2="228" stroke="#000" stroke-width="1.25"/>
<line x1="321.9" y1="216.88" x2="325.5" y2="216.88" stroke="#000" stroke-width="1.25"/>
<line x1="444.5" y1="216.88" x2="451.7" y2="216.88" stroke="#000" stroke-width="1.25"/>
<line x1="570.3" y1="216.88" x2="573.9" y2="216.88" stroke="#000" stroke-width="1.25"/>
<line x1="321.9" y1="205.75" x2="325.5" y2="205.75" stroke="#000" stroke-width="1.25"/>
<line x1="444.5" y1="205.75" x2="451.7" y2="205.75" stroke="#000" stroke-width="1.25"/>
<line x1="570.3" y1="205.75" x2="573.9" y2="205.75" stroke="#000" stroke-width="1.25"/>
<line x1="321.9" y1="194.62" x2="325.5" y2="194.62" stroke="#000" stroke-width="1.25"/>
<line x1="444.5" y1="194.62" x2="451.7" y2="194.62" stroke="#000" stroke-width="1.25"/>
<line x1="570.3" y1="194.62" x2="573.9" y2="194.62" stroke="#000" stroke-width="1.25"/>
<line x1="321.9" y1="183.5" x2="325.5" y2="183.5" stroke="#000" stroke-width="1.25"/>
<line x1="444.5" y1="183.5" x2="451.7" y2="183.5" stroke="#000" stroke-width="1.25"/>
<line x1="570.3" y1="183.5" x2="573.9" y2="183.5" stroke="#000" stroke-width="1.25"/>
<text x="320.2" y="25.1" font-size="9" text-anchor="end" font-weight="normal">0.4</text>
<text x="320.2" y="60.9" font-size="9" text-anchor="end" font-weight="normal">0.2</text>
<text x="320.2" y="96.7" font-size="9" text-anchor="end" font-weight="normal">0</text>
<text x="320.2" y="119.1" font-size="9" text-anchor="end" font-weight="normal">0.1</text>
<text x="320.2" y="141.6" font-size="9" text-anchor="end" font-weight="normal">0</text>
<text x="320.2" y="164.1" font-size="9" text-anchor="end" font-weight="normal">−0.1</text>
<text x="320.2" y="208.95" font-size="9" text-anchor="end" font-weight="normal">0.1</text>
<text x="320.2" y="231.2" font-size="9" text-anchor="end" font-weight="normal">0</text>
<text x="320.2" y="253.45" font-size="9" text-anchor="end" font-weight="normal">−0.1</text>
<text x="356.3" y="286.3" font-size="9" text-anchor="middle" font-weight="normal">600</text>
<text x="478.88" y="286.3" font-size="9" text-anchor="middle" font-weight="normal">600</text>
<text x="417.5" y="286.3" font-size="9" text-anchor="middle" font-weight="normal">800</text>
<text x="539.82" y="286.3" font-size="9" text-anchor="middle" font-weight="normal">800</text>
<text x="390.9" y="298" font-size="8.5" text-anchor="middle" font-weight="normal">Wavelength (nm)</text>
<text x="513.9" y="298" font-size="8.5" text-anchor="middle" font-weight="normal">Wavelength (nm)</text>
<text transform="translate(294.8,48.7) rotate(-90)" font-size="8" text-anchor="middle">σ</text>
<text transform="translate(294.8,138.3) rotate(-90)" font-size="8" text-anchor="middle">Δσ</text>
<text transform="translate(294.8,228) rotate(-90)" font-size="8" text-anchor="middle">Δσ</text>
<text x="329.3" y="15" font-size="12" text-anchor="start" font-weight="bold" style="stroke:none">c</text>
<text x="329" y="105.8" font-size="12" text-anchor="start" font-weight="bold" style="stroke:none">d</text>
<text x="453.9" y="105.8" font-size="12" text-anchor="start" font-weight="bold" style="stroke:none">e</text>
<text x="329.3" y="195.7" font-size="12" text-anchor="start" font-weight="bold" style="stroke:none">f</text>
<text x="453.9" y="195.5" font-size="12" text-anchor="start" font-weight="bold" style="stroke:none">g</text>
<text x="416" y="14.7" font-size="7.1" text-anchor="start" font-weight="normal">α = 45°</text>
<text x="414" y="104.5" font-size="7">Δσ</text>
<text x="423.8" y="101.7" font-size="5">SAM</text>
<text x="423.8" y="106.1" font-size="4.6">+1</text>
<text x="539.2" y="106.1" font-size="7">Δσ</text>
<text x="548.6" y="102.7" font-size="5">OAM</text>
<text x="548.6" y="107.7" font-size="4.6">1,+1</text>
<text x="417.8" y="195.8" font-size="7">Δσ</text>
<text x="427.2" y="192.7" font-size="5">PC</text>
<text x="427.2" y="196.9" font-size="4.6">1</text>
<text x="541.8" y="194.8" font-size="7">Δσ</text>
<text x="550.9" y="191.6" font-size="5">APC</text>
<text x="550.9" y="195.8" font-size="4.6">1</text>
<line x1="374.66" y1="4" x2="374.66" y2="272.5" stroke="#333" stroke-width="1.0" stroke-dasharray="2 1.8" stroke-dashoffset="2.55"/>
<line x1="497.16" y1="93.5" x2="497.16" y2="272.5" stroke="#333" stroke-width="1.0" stroke-dasharray="2 1.8" stroke-dashoffset="0.45"/>
<g transform="translate(337.95,30.24) rotate(14)"><rect x="-11.95" y="-3" width="23.9" height="5.99" rx="3" fill="url(#rg)"/><rect x="-11.95" y="-3" width="23.9" height="5.99" rx="3" fill="url(#sh)"/><rect x="-11.95" y="-3" width="23.9" height="5.99" rx="3" fill="none" stroke="#111" stroke-width="1.05" stroke-dasharray="1.6 0.9"/></g>
<g transform="translate(338.76,30.49) rotate(60.3)"><rect x="-11.95" y="-3" width="23.9" height="5.99" rx="3" fill="url(#rg)"/><rect x="-11.95" y="-3" width="23.9" height="5.99" rx="3" fill="url(#sh)"/><rect x="-11.95" y="-3" width="23.9" height="5.99" rx="3" fill="none" stroke="#111" stroke-width="1.0"/></g>
<g transform="translate(361.12,42.88) rotate(135.1)"><rect x="-11.95" y="-3" width="23.9" height="5.99" rx="3" fill="url(#rg)"/><rect x="-11.95" y="-3" width="23.9" height="5.99" rx="3" fill="url(#sh)"/><rect x="-11.95" y="-3" width="23.9" height="5.99" rx="3" fill="none" stroke="#111" stroke-width="1.05" stroke-dasharray="1.6 0.9"/></g>
<g transform="translate(361.08,42.88) rotate(180)"><rect x="-11.95" y="-3" width="23.9" height="5.99" rx="3" fill="url(#rg)"/><rect x="-11.95" y="-3" width="23.9" height="5.99" rx="3" fill="url(#sh)"/><rect x="-11.95" y="-3" width="23.9" height="5.99" rx="3" fill="none" stroke="#111" stroke-width="1.0"/></g>
<g transform="translate(337.71,55.68) rotate(-110.5)"><rect x="-11.95" y="-3" width="23.9" height="5.99" rx="3" fill="url(#rg)"/><rect x="-11.95" y="-3" width="23.9" height="5.99" rx="3" fill="url(#sh)"/><rect x="-11.95" y="-3" width="23.9" height="5.99" rx="3" fill="none" stroke="#111" stroke-width="1.05" stroke-dasharray="1.6 0.9"/></g>
<g transform="translate(338.52,55.11) rotate(-55)"><rect x="-11.59" y="-3" width="23.18" height="5.99" rx="3" fill="url(#rg)"/><rect x="-11.59" y="-3" width="23.18" height="5.99" rx="3" fill="url(#sh)"/><rect x="-11.59" y="-3" width="23.18" height="5.99" rx="3" fill="none" stroke="#111" stroke-width="1.0"/></g>
<clipPath id="clipC"><rect x="325.5" y="4" width="122.6" height="89.5"/></clipPath>
<g clip-path="url(#clipC)">
<path d="M325.5,91 C327.92,90.95 335.92,90.93 340,90.7 C344.08,90.47 347.5,90 350,89.6 C352.5,89.2 353.33,88.83 355,88.3 C356.67,87.77 358.33,87.08 360,86.4 C361.67,85.72 363.62,84.82 365,84.2 C366.38,83.58 367.13,83.25 368.3,82.7 C369.47,82.15 370.88,81.45 372,80.9 C373.12,80.35 374,79.85 375,79.4 C376,78.95 377.17,78.55 378,78.2 C378.83,77.85 379.25,77.72 380,77.3 C380.75,76.88 381.67,76.37 382.5,75.7 C383.33,75.03 384.17,74.2 385,73.3 C385.83,72.4 386.67,71.28 387.5,70.3 C388.33,69.32 389.17,68.32 390,67.4 C390.83,66.48 391.67,65.53 392.5,64.8 C393.33,64.07 394.17,63.52 395,63 C395.83,62.48 396.67,62 397.5,61.7 C398.33,61.4 399.17,61.23 400,61.2 C400.83,61.17 401.67,61.27 402.5,61.5 C403.33,61.73 404.17,62.02 405,62.6 C405.83,63.18 406.67,64.05 407.5,65 C408.33,65.95 409.17,67.05 410,68.3 C410.83,69.55 411.67,71.1 412.5,72.5 C413.33,73.9 414.08,75.37 415,76.7 C415.92,78.03 416.88,79.4 418,80.5 C419.12,81.6 420.45,82.45 421.7,83.3 C422.95,84.15 424.12,84.93 425.5,85.6 C426.88,86.27 428.42,86.77 430,87.3 C431.58,87.83 433.33,88.38 435,88.8 C436.67,89.22 437.82,89.43 440,89.8 C442.18,90.17 446.75,90.8 448.1,91" fill="none" stroke="#ff6c0a" stroke-width="1.7" stroke-linejoin="round"/>
<path d="M325.5,83.6 C325.92,83.4 327.17,82.67 328,82.4 C328.83,82.13 329.33,81.93 330.5,82 C331.67,82.07 332.58,82.42 335,82.8 C337.42,83.18 341.67,83.93 345,84.3 C348.33,84.67 352.5,84.88 355,85 C357.5,85.12 358.83,85.07 360,85 C361.17,84.93 361.17,85 362,84.6 C362.83,84.2 364,83.7 365,82.6 C366,81.5 367.08,79.77 368,78 C368.92,76.23 369.75,74.42 370.5,72 C371.25,69.58 371.88,66.17 372.5,63.5 C373.12,60.83 373.78,57.52 374.2,56 C374.62,54.48 374.7,54.32 375,54.4 C375.3,54.48 375.58,54.73 376,56.5 C376.42,58.27 377,62.17 377.5,65 C378,67.83 378.5,71.25 379,73.5 C379.5,75.75 379.78,76.95 380.5,78.5 C381.22,80.05 382.38,81.83 383.3,82.8 C384.22,83.77 384.88,83.93 386,84.3 C387.12,84.67 387.67,84.75 390,85 C392.33,85.25 397.22,85.47 400,85.8 C402.78,86.13 404.48,86.43 406.7,87 C408.92,87.57 411.08,88.65 413.3,89.2 C415.52,89.75 416.38,89.95 420,90.3 C423.62,90.65 430.32,90.97 435,91.3 C439.68,91.63 445.92,92.13 448.1,92.3" fill="none" stroke="#b9e10a" stroke-width="1.7" stroke-linejoin="round"/>
<path d="M325.5,90.8 C328.75,90.73 340.08,90.67 345,90.4 C349.92,90.13 352.5,89.63 355,89.2 C357.5,88.77 358.33,88.28 360,87.8 C361.67,87.32 363.62,86.77 365,86.3 C366.38,85.83 366.92,85.62 368.3,85 C369.68,84.38 371.63,83.33 373.3,82.6 C374.97,81.87 376.85,81.12 378.3,80.6 C379.75,80.08 380.88,79.88 382,79.5 C383.12,79.12 384.08,78.75 385,78.3 C385.92,77.85 386.67,77.35 387.5,76.8 C388.33,76.25 389.17,75.63 390,75 C390.83,74.37 391.67,73.57 392.5,73 C393.33,72.43 394.25,71.95 395,71.6 C395.75,71.25 396.3,71.05 397,70.9 C397.7,70.75 398.45,70.63 399.2,70.7 C399.95,70.77 400.82,71 401.5,71.3 C402.18,71.6 402.63,71.92 403.3,72.5 C403.97,73.08 404.8,73.97 405.5,74.8 C406.2,75.63 406.83,76.55 407.5,77.5 C408.17,78.45 408.8,79.5 409.5,80.5 C410.2,81.5 410.95,82.53 411.7,83.5 C412.45,84.47 413.17,85.55 414,86.3 C414.83,87.05 415.7,87.52 416.7,88 C417.7,88.48 418.9,88.9 420,89.2 C421.1,89.5 420.8,89.52 423.3,89.8 C425.8,90.08 430.87,90.58 435,90.9 C439.13,91.22 445.92,91.57 448.1,91.7" fill="none" stroke="#2a8c14" stroke-width="1.9" stroke-linejoin="round" stroke-dasharray="6.8 2.3"/>
<path d="M325.5,85 C325.92,84.83 327.08,84.27 328,84 C328.92,83.73 329.67,83.35 331,83.4 C332.33,83.45 333.67,84 336,84.3 C338.33,84.6 341.83,85 345,85.2 C348.17,85.4 352.5,85.6 355,85.5 C357.5,85.4 358.33,85.32 360,84.6 C361.67,83.88 363.62,82.72 365,81.2 C366.38,79.68 367.18,78.12 368.3,75.5 C369.42,72.88 370.82,68.17 371.7,65.5 C372.58,62.83 373.05,60.82 373.6,59.5 C374.15,58.18 374.57,57.68 375,57.6 C375.43,57.52 375.65,57.48 376.2,59 C376.75,60.52 377.53,63.83 378.3,66.7 C379.07,69.57 379.82,73.6 380.8,76.2 C381.78,78.8 382.8,80.9 384.2,82.3 C385.6,83.7 387.4,84.15 389.2,84.6 C391,85.05 393.2,85.13 395,85 C396.8,84.87 398.33,84.48 400,83.8 C401.67,83.12 403.75,81.55 405,80.9 C406.25,80.25 406.67,79.78 407.5,79.9 C408.33,80.02 409.03,80.65 410,81.6 C410.97,82.55 412.05,84.37 413.3,85.6 C414.55,86.83 415.27,88.13 417.5,89 C419.73,89.87 421.6,90.33 426.7,90.8 C431.8,91.27 444.53,91.63 448.1,91.8" fill="none" stroke="#8c0a0a" stroke-width="1.9" stroke-linejoin="round" stroke-dasharray="7.4 2.5"/>
</g>
<text x="457.5" y="21.1" font-size="7.3" text-anchor="start" font-weight="normal">ℓ = +1 s = +1</text>
<line x1="502" y1="18.6" x2="512.9" y2="18.6" stroke="#ff6c0a" stroke-width="2.2"/>
<text x="457.5" y="32.63" font-size="7.3" text-anchor="start" font-weight="normal">ℓ = −1 s = +1</text>
<line x1="502" y1="30.13" x2="512.9" y2="30.13" stroke="#b9e10a" stroke-width="2.2"/>
<text x="457.5" y="44.16" font-size="7.3" text-anchor="start" font-weight="normal">ℓ = +1 s = −1</text>
<line x1="502" y1="41.66" x2="512.9" y2="41.66" stroke="#8c0a0a" stroke-width="2.2" stroke-dasharray="5.2 0.9"/>
<text x="457.5" y="55.69" font-size="7.3" text-anchor="start" font-weight="normal">ℓ = −1 s = −1</text>
<line x1="502" y1="53.19" x2="512.9" y2="53.19" stroke="#2a8c14" stroke-width="2.2" stroke-dasharray="5.2 0.9"/>
<clipPath id="clipD"><rect x="325.5" y="93.5" width="122.6" height="89.95"/></clipPath>
<clipPath id="clipE"><rect x="448.1" y="93.5" width="122.2" height="89.95"/></clipPath>
<clipPath id="clipF"><rect x="325.5" y="183.45" width="122.6" height="89.05"/></clipPath>
<clipPath id="clipG"><rect x="448.1" y="183.45" width="122.2" height="89.05"/></clipPath>
<line x1="325.5" y1="138.4" x2="570.3" y2="138.4" stroke="#000" stroke-width="1.05"/>
<g clip-path="url(#clipD)">
<path d="M325.5,148 C325.92,148.38 327.17,149.77 328,150.3 C328.83,150.83 329.5,151.22 330.5,151.2 C331.5,151.18 332.42,150.8 334,150.2 C335.58,149.6 338.17,148.33 340,147.6 C341.83,146.87 343.33,146.27 345,145.8 C346.67,145.33 348.33,144.9 350,144.8 C351.67,144.7 353.67,144.95 355,145.2 C356.33,145.45 357,145.58 358,146.3 C359,147.02 360,148.13 361,149.5 C362,150.87 363.08,153.02 364,154.5 C364.92,155.98 365.75,158.07 366.5,158.4 C367.25,158.73 367.83,158.07 368.5,156.5 C369.17,154.93 369.92,151.58 370.5,149 C371.08,146.42 371.42,143.25 372,141 C372.58,138.75 373,137.17 374,135.5 C375,133.83 377.33,131.75 378,131" fill="none" stroke="#ff9aaa" stroke-width="1.8" stroke-linejoin="round"/>
<path d="M325.5,147.6 C325.92,147.9 327.17,148.97 328,149.4 C328.83,149.83 329.5,150.2 330.5,150.2 C331.5,150.2 332.42,149.9 334,149.4 C335.58,148.9 338.17,147.77 340,147.2 C341.83,146.63 343.33,146.32 345,146 C346.67,145.68 348.33,145.35 350,145.3 C351.67,145.25 353.67,145.45 355,145.7 C356.33,145.95 357.17,146.45 358,146.8 C358.83,147.15 359.32,146.8 360,147.8 C360.68,148.8 361.4,151.03 362.1,152.8 C362.8,154.57 363.62,156.9 364.2,158.4 C364.78,159.9 365.13,161.2 365.6,161.8 C366.07,162.4 366.6,162.13 367,162 C367.4,161.87 367.65,161.6 368,161 C368.35,160.4 368.68,159.97 369.1,158.4 C369.52,156.83 370.03,153.9 370.5,151.6 C370.97,149.3 371.43,146.58 371.9,144.6 C372.37,142.62 372.72,141.47 373.3,139.7 C373.88,137.93 374.53,135.65 375.4,134 C376.27,132.35 377.37,131.2 378.5,129.8 C379.63,128.4 381,126.9 382.2,125.6 C383.4,124.3 384.57,123.18 385.7,122 C386.83,120.82 387.78,119.6 389,118.5 C390.22,117.4 391.83,116.02 393,115.4 C394.17,114.78 395,114.77 396,114.8 C397,114.83 397.88,115.18 399,115.6 C400.12,116.02 401.5,116.57 402.75,117.3 C404,118.03 405.12,119.08 406.5,120 C407.88,120.92 409.47,121.65 411,122.8 C412.53,123.95 414.15,125.63 415.7,126.9 C417.25,128.17 418.95,129.52 420.3,130.4 C421.65,131.28 422.23,131.67 423.8,132.2 C425.37,132.73 427.55,133.22 429.7,133.6 C431.85,133.98 433.55,134.13 436.7,134.5 C439.85,134.87 446.62,135.58 448.6,135.8" fill="none" stroke="#f0280a" stroke-width="1.7" stroke-linejoin="round"/>
<path d="M325.5,146.2 C326.25,146.38 328.42,147.33 330,147.3 C331.58,147.27 333.33,146.48 335,146 C336.67,145.52 338.33,144.85 340,144.4 C341.67,143.95 343.33,143.62 345,143.3 C346.67,142.98 348.33,142.75 350,142.5 C351.67,142.25 353.33,141.98 355,141.8 C356.67,141.62 358.67,141.48 360,141.4 C361.33,141.32 362.08,141.25 363,141.3 C363.92,141.35 364.6,141.38 365.5,141.7 C366.4,142.02 367.57,141.9 368.4,143.2 C369.23,144.5 369.8,147.17 370.5,149.5 C371.2,151.83 372.02,155.07 372.6,157.2 C373.18,159.33 373.63,161.17 374,162.3 C374.37,163.43 374.5,164.13 374.8,164 C375.1,163.87 375.35,163.1 375.8,161.5 C376.25,159.9 376.98,156.73 377.5,154.4 C378.02,152.07 378.42,149.73 378.9,147.5 C379.38,145.27 379.85,143.08 380.4,141 C380.95,138.92 381.62,136.83 382.2,135 C382.78,133.17 383.32,131.53 383.9,130 C384.48,128.47 385.02,127.32 385.7,125.8 C386.38,124.28 387.28,122.23 388,120.9 C388.72,119.57 389.04,118.95 390,117.8 C390.96,116.65 392.5,115.22 393.75,114 C395,112.78 396.5,111.22 397.5,110.5 C398.5,109.78 399,109.65 399.75,109.7 C400.5,109.75 401.25,110.17 402,110.8 C402.75,111.43 403.53,112.05 404.25,113.5 C404.97,114.95 405.56,117.33 406.3,119.5 C407.04,121.67 407.92,124.72 408.7,126.5 C409.48,128.28 409.83,129.35 411,130.2 C412.17,131.05 413.95,131.17 415.7,131.6 C417.45,132.03 419.57,132.42 421.5,132.8 C423.43,133.18 424.77,133.52 427.3,133.9 C429.83,134.28 433.15,134.7 436.7,135.1 C440.25,135.5 446.62,136.1 448.6,136.3" fill="none" stroke="#b07ae4" stroke-width="1.7" stroke-linejoin="round"/>
<path d="M325.5,146.2 C326.25,146.27 328.42,146.62 330,146.6 C331.58,146.58 333.33,146.28 335,146.1 C336.67,145.92 338.33,145.75 340,145.5 C341.67,145.25 343.33,144.88 345,144.6 C346.67,144.32 348.33,144.08 350,143.8 C351.67,143.52 353.33,143.18 355,142.9 C356.67,142.62 358.33,142.37 360,142.1 C361.67,141.83 363.33,141.52 365,141.3 C366.67,141.08 368.58,140.85 370,140.8 C371.42,140.75 372.58,140.5 373.5,141 C374.42,141.5 374.83,142.63 375.5,143.8 C376.17,144.97 376.82,146.55 377.5,148 C378.18,149.45 379.02,151.47 379.6,152.5 C380.18,153.53 380.53,154.45 381,154.2 C381.47,153.95 381.82,153.2 382.4,151 C382.98,148.8 383.82,143.83 384.5,141 C385.18,138.17 385.83,136.25 386.5,134 C387.17,131.75 387.92,129.42 388.5,127.5 C389.08,125.58 389.5,124.2 390,122.5 C390.5,120.8 390.88,119.17 391.5,117.3 C392.12,115.43 393,112.75 393.75,111.3 C394.5,109.85 395.38,108.73 396,108.6 C396.62,108.47 397,109.22 397.5,110.5 C398,111.78 398.5,114.33 399,116.3 C399.5,118.27 400,120.3 400.5,122.3 C401,124.3 401.5,126.3 402,128.3 C402.5,130.3 403,132.48 403.5,134.3 C404,136.12 404.5,138.15 405,139.2 C405.5,140.25 405.92,140.55 406.5,140.6 C407.08,140.65 407.75,140.17 408.5,139.5 C409.25,138.83 409.8,137.2 411,136.6 C412.2,136 413.95,135.93 415.7,135.9 C417.45,135.87 419.12,136.23 421.5,136.4 C423.88,136.57 425.48,136.73 430,136.9 C434.52,137.07 445.5,137.32 448.6,137.4" fill="none" stroke="#1882d0" stroke-width="1.8" stroke-linejoin="round"/>
<path d="M325.5,146.5 C326.25,146.55 328.58,146.78 330,146.8 C331.42,146.82 332.67,146.73 334,146.6 C335.33,146.47 336.5,146.2 338,146 C339.5,145.8 341.33,145.6 343,145.4 C344.67,145.2 346.5,144.97 348,144.8 C349.5,144.63 350.5,144.6 352,144.4 C353.5,144.2 355.67,143.87 357,143.6 C358.33,143.33 358.8,143.07 360,142.8 C361.2,142.53 362.8,142.25 364.2,142 C365.6,141.75 367,141.38 368.4,141.3 C369.8,141.22 371.55,141.18 372.6,141.5 C373.65,141.82 374,142.22 374.7,143.2 C375.4,144.18 375.98,145.88 376.8,147.4 C377.62,148.92 378.9,151.28 379.6,152.3 C380.3,153.32 380.53,153.85 381,153.5 C381.47,153.15 381.82,152.2 382.4,150.2 C382.98,148.2 383.82,144.12 384.5,141.5 C385.18,138.88 385.83,136.75 386.5,134.5 C387.17,132.25 387.92,129.92 388.5,128 C389.08,126.08 389.5,124.75 390,123 C390.5,121.25 390.88,119.42 391.5,117.5 C392.12,115.58 393,112.95 393.75,111.5 C394.5,110.05 395.38,108.97 396,108.8 C396.62,108.63 397,109.22 397.5,110.5 C398,111.78 398.5,114.5 399,116.5 C399.5,118.5 400,120.5 400.5,122.5 C401,124.5 401.5,126.5 402,128.5 C402.5,130.5 403.03,132.72 403.5,134.5 C403.97,136.28 404.43,138.13 404.8,139.2 C405.18,140.27 405.22,140.62 405.75,140.9 C406.28,141.18 407.23,141.28 408,140.9 C408.77,140.52 409.52,139.23 410.4,138.6 C411.28,137.97 412.03,137.4 413.3,137.1 C414.57,136.8 415.67,136.75 418,136.8 C420.33,136.85 422.2,137.2 427.3,137.4 C432.4,137.6 445.05,137.9 448.6,138" fill="none" stroke="#0a1496" stroke-width="2" stroke-linejoin="round" stroke-dasharray="7.6 2"/>
</g>
<g clip-path="url(#clipE)">
<path d="M448.6,150 C449.17,150.25 450.93,151.2 452,151.5 C453.07,151.8 453.67,151.97 455,151.8 C456.33,151.63 458.33,151 460,150.5 C461.67,150 463,149.45 465,148.8 C467,148.15 469.83,147.15 472,146.6 C474.17,146.05 476.33,145.6 478,145.5 C479.67,145.4 480.83,145.33 482,146 C483.17,146.67 484.08,148 485,149.5 C485.92,151 486.75,153.55 487.5,155 C488.25,156.45 488.83,158.2 489.5,158.2 C490.17,158.2 490.83,157.03 491.5,155 C492.17,152.97 492.83,148.5 493.5,146 C494.17,143.5 494.75,141.5 495.5,140 C496.25,138.5 497.58,137.5 498,137" fill="none" stroke="#ff9aaa" stroke-width="1.8" stroke-linejoin="round"/>
<path d="M448.6,149.2 C449.17,149.43 450.93,150.33 452,150.6 C453.07,150.87 453.67,150.97 455,150.8 C456.33,150.63 458.33,150.02 460,149.6 C461.67,149.18 463,148.8 465,148.3 C467,147.8 469.83,147.02 472,146.6 C474.17,146.18 476.42,145.83 478,145.8 C479.58,145.77 480.5,145.7 481.5,146.4 C482.5,147.1 483.25,148.4 484,150 C484.75,151.6 485.33,153.73 486,156 C486.67,158.27 487.42,162.37 488,163.6 C488.58,164.83 488.97,164.42 489.5,163.4 C490.03,162.38 490.62,160.07 491.2,157.5 C491.78,154.93 492.37,150.65 493,148 C493.63,145.35 494.3,143.4 495,141.6 C495.7,139.8 496.63,138.33 497.2,137.2 C497.77,136.07 497.93,135.67 498.4,134.8 C498.87,133.93 499.33,133.07 500,132 C500.67,130.93 501.6,129.53 502.4,128.4 C503.2,127.27 504,126.2 504.8,125.2 C505.6,124.2 506.4,123.27 507.2,122.4 C508,121.53 508.8,120.67 509.6,120 C510.4,119.33 511.1,118.87 512,118.4 C512.9,117.93 514,117.5 515,117.2 C516,116.9 516.92,116.6 518,116.6 C519.08,116.6 520.25,116.7 521.5,117.2 C522.75,117.7 524.08,118.58 525.5,119.6 C526.92,120.62 528.5,122.17 530,123.3 C531.5,124.43 533,125.5 534.5,126.4 C536,127.3 537.25,127.93 539,128.7 C540.75,129.47 542.83,130.32 545,131 C547.17,131.68 549.5,132.25 552,132.8 C554.5,133.35 556.93,133.83 560,134.3 C563.07,134.77 568.67,135.38 570.4,135.6" fill="none" stroke="#f0280a" stroke-width="1.7" stroke-linejoin="round"/>
<path d="M448.6,148.3 C449.67,148.28 452.77,148.58 455,148.2 C457.23,147.82 459.5,146.67 462,146 C464.5,145.33 467.33,144.75 470,144.2 C472.67,143.65 475.5,143.12 478,142.7 C480.5,142.28 483.17,141.78 485,141.7 C486.83,141.62 487.92,141.57 489,142.2 C490.08,142.83 490.75,143.65 491.5,145.5 C492.25,147.35 492.83,150.55 493.5,153.3 C494.17,156.05 494.88,159.25 495.5,162 C496.12,164.75 496.65,169.13 497.2,169.8 C497.75,170.47 498.25,168.05 498.8,166 C499.35,163.95 500,160.5 500.5,157.5 C501,154.5 501.42,150.58 501.8,148 C502.18,145.42 502.43,143.8 502.8,142 C503.17,140.2 503.53,138.93 504,137.2 C504.47,135.47 505,133.47 505.6,131.6 C506.2,129.73 506.93,127.73 507.6,126 C508.27,124.27 508.87,122.78 509.6,121.2 C510.33,119.62 511.1,117.97 512,116.5 C512.9,115.03 514,113.6 515,112.4 C516,111.2 516.88,110.08 518,109.3 C519.12,108.52 520.58,107.85 521.7,107.7 C522.82,107.55 523.57,107.52 524.7,108.4 C525.83,109.28 527.37,111.48 528.5,113 C529.63,114.52 530.5,115.88 531.5,117.5 C532.5,119.12 533.25,121.08 534.5,122.7 C535.75,124.32 537.25,125.95 539,127.2 C540.75,128.45 542.83,129.37 545,130.2 C547.17,131.03 549.5,131.6 552,132.2 C554.5,132.8 556.93,133.2 560,133.8 C563.07,134.4 568.67,135.47 570.4,135.8" fill="none" stroke="#b07ae4" stroke-width="1.7" stroke-linejoin="round"/>
<path d="M448.6,146.3 C449.67,146.45 453.1,147.15 455,147.2 C456.9,147.25 458.33,146.83 460,146.6 C461.67,146.37 463,146.2 465,145.8 C467,145.4 469.5,144.75 472,144.2 C474.5,143.65 477,143.07 480,142.5 C483,141.93 487.5,141.17 490,140.8 C492.5,140.43 493.67,140.22 495,140.3 C496.33,140.38 497.08,140.6 498,141.3 C498.92,142 499.78,143.13 500.5,144.5 C501.22,145.87 501.8,148.33 502.3,149.5 C502.8,150.67 503.05,152.08 503.5,151.5 C503.95,150.92 504.58,147.85 505,146 C505.42,144.15 505.63,142.13 506,140.4 C506.37,138.67 506.8,137.2 507.2,135.6 C507.6,134 507.93,132.53 508.4,130.8 C508.87,129.07 509.47,127.07 510,125.2 C510.53,123.33 511.02,121.63 511.6,119.6 C512.18,117.57 512.85,115.02 513.5,113 C514.15,110.98 514.83,109.08 515.5,107.5 C516.17,105.92 516.95,104.35 517.5,103.5 C518.05,102.65 518.38,102.42 518.8,102.4 C519.22,102.38 519.63,102.9 520,103.4 C520.37,103.9 520.63,104.38 521,105.4 C521.37,106.42 521.82,107.98 522.2,109.5 C522.58,111.02 522.92,112.92 523.3,114.5 C523.68,116.08 524.12,117.52 524.5,119 C524.88,120.48 525.23,122.03 525.6,123.4 C525.97,124.77 526.33,126.1 526.7,127.2 C527.07,128.3 527.42,129.27 527.8,130 C528.18,130.73 528.55,131.22 529,131.6 C529.45,131.98 529.58,132.1 530.5,132.3 C531.42,132.5 533.08,132.58 534.5,132.8 C535.92,133.02 537.25,133.3 539,133.6 C540.75,133.9 542.33,134.28 545,134.6 C547.67,134.92 550.77,135.13 555,135.5 C559.23,135.87 567.83,136.58 570.4,136.8" fill="none" stroke="#1882d0" stroke-width="1.8" stroke-linejoin="round"/>
<path d="M448.6,146.3 C449.67,146.45 453.1,147.15 455,147.2 C456.9,147.25 458.33,146.83 460,146.6 C461.67,146.37 463,146.2 465,145.8 C467,145.4 469.5,144.75 472,144.2 C474.5,143.65 477,143.07 480,142.5 C483,141.93 487.5,141.17 490,140.8 C492.5,140.43 493.67,140.22 495,140.3 C496.33,140.38 497.08,140.52 498,141.3 C498.92,142.08 499.75,143.38 500.5,145 C501.25,146.62 501.92,149.83 502.5,151 C503.08,152.17 503.5,152.67 504,152 C504.5,151.33 505,148.75 505.5,147 C506,145.25 506.58,143.13 507,141.5 C507.42,139.87 507.63,138.72 508,137.2 C508.37,135.68 508.73,134 509.2,132.4 C509.67,130.8 510.25,129.42 510.8,127.6 C511.35,125.78 511.88,123.43 512.5,121.5 C513.12,119.57 513.83,117.5 514.5,116 C515.17,114.5 515.8,113.28 516.5,112.5 C517.2,111.72 518.12,111.13 518.7,111.3 C519.28,111.47 519.62,112.5 520,113.5 C520.38,114.5 520.63,115.88 521,117.3 C521.37,118.72 521.82,120.45 522.2,122 C522.58,123.55 522.93,125.07 523.3,126.6 C523.67,128.13 524.03,129.75 524.4,131.2 C524.77,132.65 525.12,134.08 525.5,135.3 C525.88,136.52 526.32,137.72 526.7,138.5 C527.08,139.28 527.25,139.63 527.8,140 C528.35,140.37 529.13,140.82 530,140.7 C530.87,140.58 532,139.7 533,139.3 C534,138.9 534,138.55 536,138.3 C538,138.05 539.27,137.88 545,137.8 C550.73,137.72 566.17,137.8 570.4,137.8" fill="none" stroke="#0a1496" stroke-width="2" stroke-linejoin="round" stroke-dasharray="7.6 2"/>
</g>
<g clip-path="url(#clipF)">
<line x1="325.5" y1="228" x2="448.1" y2="228" stroke="#ff9aaa" stroke-width="2"/>
<path d="M325.5,227.6 C329.58,227.55 343.42,227.47 350,227.3 C356.58,227.13 360,226.85 365,226.6 C370,226.35 375.83,226.05 380,225.8 C384.17,225.55 387,225.22 390,225.1 C393,224.98 395.5,225.03 398,225.1 C400.5,225.17 402.17,225.22 405,225.5 C407.83,225.78 412.17,226.45 415,226.8 C417.83,227.15 416.4,227.43 422,227.6 C427.6,227.77 444.17,227.77 448.6,227.8" fill="none" stroke="#f0280a" stroke-width="1.6" stroke-linejoin="round"/>
<path d="M325.5,227.4 C327.92,227.33 335.08,227.2 340,227 C344.92,226.8 350.83,226.48 355,226.2 C359.17,225.92 361.67,225.7 365,225.3 C368.33,224.9 372.5,224.35 375,223.8 C377.5,223.25 378.33,222.63 380,222 C381.67,221.37 383.33,220.62 385,220 C386.67,219.38 388.33,219 390,218.3 C391.67,217.6 393.33,216.52 395,215.8 C396.67,215.08 398.5,214.53 400,214 C401.5,213.47 402.73,213 404,212.6 C405.27,212.2 406.6,211.47 407.6,211.6 C408.6,211.73 408.77,212.38 410,213.4 C411.23,214.42 413.33,216.38 415,217.7 C416.67,219.02 418.33,220.28 420,221.3 C421.67,222.32 423.33,223.18 425,223.8 C426.67,224.42 428.17,224.67 430,225 C431.83,225.33 432.9,225.5 436,225.8 C439.1,226.1 446.5,226.63 448.6,226.8" fill="none" stroke="#b07ae4" stroke-width="1.7" stroke-linejoin="round"/>
<path d="M325.5,227.4 C327.92,227.33 335.08,227.17 340,227 C344.92,226.83 350.83,226.63 355,226.4 C359.17,226.17 361.67,225.93 365,225.6 C368.33,225.27 372.5,224.92 375,224.4 C377.5,223.88 378.33,223.23 380,222.5 C381.67,221.77 383.33,220.92 385,220 C386.67,219.08 388.25,217.85 390,217 C391.75,216.15 393.83,215 395.5,214.9 C397.17,214.8 398.42,215.63 400,216.4 C401.58,217.17 403.33,218.57 405,219.5 C406.67,220.43 408.33,221.28 410,222 C411.67,222.72 413.33,223.3 415,223.8 C416.67,224.3 417.5,224.67 420,225 C422.5,225.33 425.23,225.5 430,225.8 C434.77,226.1 445.5,226.63 448.6,226.8" fill="none" stroke="#1882d0" stroke-width="1.8" stroke-linejoin="round"/>
<line x1="325.5" y1="228" x2="448.1" y2="228" stroke="#0a1496" stroke-width="2.2" stroke-dasharray="7.7 2" stroke-dashoffset="0.8"/>
</g>
<g clip-path="url(#clipG)">
<line x1="448.1" y1="228" x2="570.3" y2="228" stroke="#ff9aaa" stroke-width="2"/>
<path d="M448.6,227.6 C452.17,227.53 464.77,227.47 470,227.2 C475.23,226.93 477.17,226.28 480,226 C482.83,225.72 485.17,225.45 487,225.5 C488.83,225.55 489.67,225.95 491,226.3 C492.33,226.65 490.17,227.38 495,227.6 C499.83,227.82 514.5,227.77 520,227.6 C525.5,227.43 525.5,226.82 528,226.6 C530.5,226.38 533,226.27 535,226.3 C537,226.33 538.33,226.58 540,226.8 C541.67,227.02 539.93,227.43 545,227.6 C550.07,227.77 566.17,227.77 570.4,227.8" fill="none" stroke="#f0280a" stroke-width="1.6" stroke-linejoin="round"/>
<path d="M448.6,226.8 C452.17,226.75 463.93,226.63 470,226.5 C476.07,226.37 481.67,226.18 485,226 C488.33,225.82 488.5,225.7 490,225.4 C491.5,225.1 492.83,224.47 494,224.2 C495.17,223.93 496.08,223.67 497,223.8 C497.92,223.93 498.67,224.43 499.5,225 C500.33,225.57 500.92,226.62 502,227.2 C503.08,227.78 504.67,228.2 506,228.5 C507.33,228.8 507.67,228.83 510,229 C512.33,229.17 517.83,229.2 520,229.5 C522.17,229.8 522.08,230.22 523,230.8 C523.92,231.38 524.75,232.08 525.5,233 C526.25,233.92 526.7,235.23 527.5,236.3 C528.3,237.37 529.47,238.98 530.3,239.4 C531.13,239.82 531.72,239.2 532.5,238.8 C533.28,238.4 533.75,238.02 535,237 C536.25,235.98 538.33,233.83 540,232.7 C541.67,231.57 543.33,230.9 545,230.2 C546.67,229.5 545.77,228.9 550,228.5 C554.23,228.1 567,227.92 570.4,227.8" fill="none" stroke="#b07ae4" stroke-width="1.7" stroke-linejoin="round"/>
<path d="M448.6,227.6 C452.17,227.6 463.1,227.62 470,227.6 C476.9,227.58 485.67,227.52 490,227.5 C494.33,227.48 494.58,227.37 496,227.5 C497.42,227.63 497.67,227.8 498.5,228.3 C499.33,228.8 500.08,229.82 501,230.5 C501.92,231.18 502.83,231.98 504,232.4 C505.17,232.82 506.67,232.93 508,233 C509.33,233.07 510.67,232.85 512,232.8 C513.33,232.75 514.67,232.62 516,232.7 C517.33,232.78 518.83,232.98 520,233.3 C521.17,233.62 522,233.98 523,234.6 C524,235.22 525.2,236.23 526,237 C526.8,237.77 527.22,238.97 527.8,239.2 C528.38,239.43 528.8,239.1 529.5,238.4 C530.2,237.7 531.08,236.07 532,235 C532.92,233.93 533.67,232.92 535,232 C536.33,231.08 538.33,230.13 540,229.5 C541.67,228.87 539.93,228.48 545,228.2 C550.07,227.92 566.17,227.87 570.4,227.8" fill="none" stroke="#1882d0" stroke-width="1.8" stroke-linejoin="round"/>
<line x1="448.1" y1="228" x2="570.3" y2="228" stroke="#0a1496" stroke-width="2.2" stroke-dasharray="7.5 2" stroke-dashoffset="1.3"/>
</g>
</svg>
</body></html>
